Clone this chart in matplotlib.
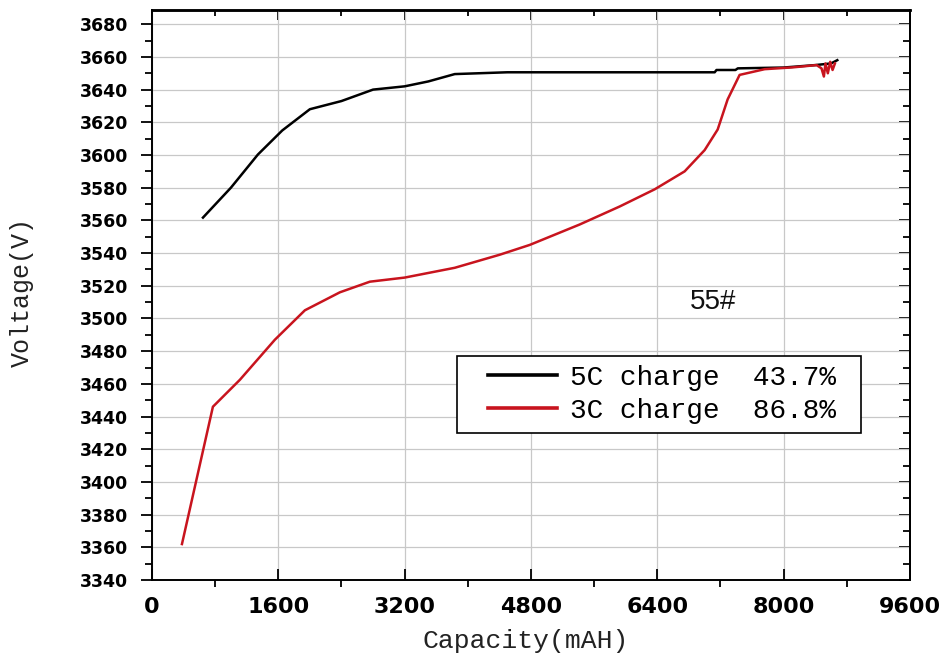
import matplotlib
matplotlib.use("Agg")
import matplotlib.pyplot as plt
from matplotlib.ticker import MultipleLocator
from matplotlib.legend_handler import HandlerLine2D

# Data
cap_5c = [646, 1000, 1342, 1650, 2000, 2400, 2800, 3200, 3500, 3835, 4500, 5500,
          6500, 7127, 7150, 7390, 7420, 8000, 8400, 8600, 8680]
volt_5c = [3561.7, 3580, 3600.3, 3615, 3628, 3633, 3640, 3642, 3645, 3649.5, 3650.6,
           3650.6, 3650.6, 3650.6, 3652, 3652, 3653, 3653.5, 3655, 3656, 3658]

cap_3c = [380, 772, 1114, 1557, 1937, 2380, 2760, 3200, 3835, 4405, 4785, 5418, 5924,
          6367, 6747, 7000, 7165, 7291, 7443, 7760, 8115, 8418, 8480, 8510, 8530,
          8560, 8590, 8620, 8650]
volt_3c = [3362, 3446, 3462.5, 3487, 3505, 3516, 3522.5, 3525, 3531, 3539, 3545,
           3557.5, 3568.5, 3579, 3590, 3603, 3615.6, 3634, 3649, 3652.5, 3653.6, 3655,
           3653, 3648, 3656, 3650, 3657, 3652, 3656]

labels = ["5C charge  43.7% ", "3C charge  86.8% "]
colors = ["#000000", "#c8141e"]
annotation = "55#"

fig = plt.figure(figsize=(9.45, 6.65), dpi=100)
ax = fig.add_axes([0.1608, 0.1278, 0.8021, 0.8579])

ax.plot(cap_5c, volt_5c, color=colors[0], lw=1.8, label=labels[0])
ax.plot(cap_3c, volt_3c, color=colors[1], lw=1.8, label=labels[1])

ax.set_xlim(0, 9600)
ax.set_ylim(3340, 3689)
ax.xaxis.set_major_locator(MultipleLocator(1600))
ax.xaxis.set_minor_locator(MultipleLocator(800))
ax.yaxis.set_major_locator(MultipleLocator(20))
ax.yaxis.set_minor_locator(MultipleLocator(10))

ax.grid(True, which="major", color="#c8c8c8", lw=0.9)
ax.set_axisbelow(True)

for s in ax.spines.values():
    s.set_linewidth(1.4)
ax.spines["top"].set_linewidth(1.8)

ax.tick_params(axis="y", which="major", direction="out", length=8, width=1.3,
               labelsize=12.5, pad=9)
ax.tick_params(axis="y", which="minor", direction="out", length=5, width=1.3)
ax.tick_params(axis="x", which="major", direction="in", length=8, width=1.3,
               labelsize=16, pad=12)
ax.tick_params(axis="x", which="minor", direction="out", length=5, width=1.3)
for lab in ax.get_xticklabels() + ax.get_yticklabels():
    lab.set_fontweight("bold")
    lab.set_family("DejaVu Sans")

secx = ax.secondary_xaxis("top")
secx.xaxis.set_major_locator(MultipleLocator(1600))
secx.xaxis.set_minor_locator(MultipleLocator(800))
secx.tick_params(which="major", direction="in", length=7, width=1.3, labeltop=False)
secx.tick_params(which="minor", direction="in", length=4, width=1.3)
secx.spines["top"].set_linewidth(1.8)

secy = ax.secondary_yaxis("right")
secy.yaxis.set_major_locator(MultipleLocator(20))
secy.yaxis.set_minor_locator(MultipleLocator(10))
secy.tick_params(which="major", direction="in", length=8, width=1.3, labelright=False)
secy.tick_params(which="minor", direction="in", length=5, width=1.3)
secy.spines["right"].set_linewidth(1.4)

mono = "Liberation Mono"
ax.set_xlabel("Capacity(mAH)", fontsize=19, family=mono, color="#222222")
ax.set_ylabel("Voltage(V)", fontsize=18, family=mono, color="#222222")
ax.xaxis.set_label_coords(0.493, -0.085)
ax.yaxis.set_label_coords(-0.156, 0.505)

ax.text(6810, 3510, annotation, fontsize=20, family="Liberation Sans",
        ha="left", va="center", color="#111111")

leg = ax.legend(loc="upper left", bbox_to_anchor=(0.402, 0.3926),
                prop={"family": mono, "size": 20}, frameon=True, fancybox=False,
                edgecolor="black", framealpha=1, handlelength=3.3,
                handletextpad=0.45, borderpad=0.32, labelspacing=0.25,
                borderaxespad=0,
                handler_map={plt.Line2D: HandlerLine2D(xpad=0.8)})
leg.get_frame().set_linewidth(1.2)
for line in leg.get_lines():
    line.set_linewidth(2.6)

fig.savefig("out.png", dpi=100)
